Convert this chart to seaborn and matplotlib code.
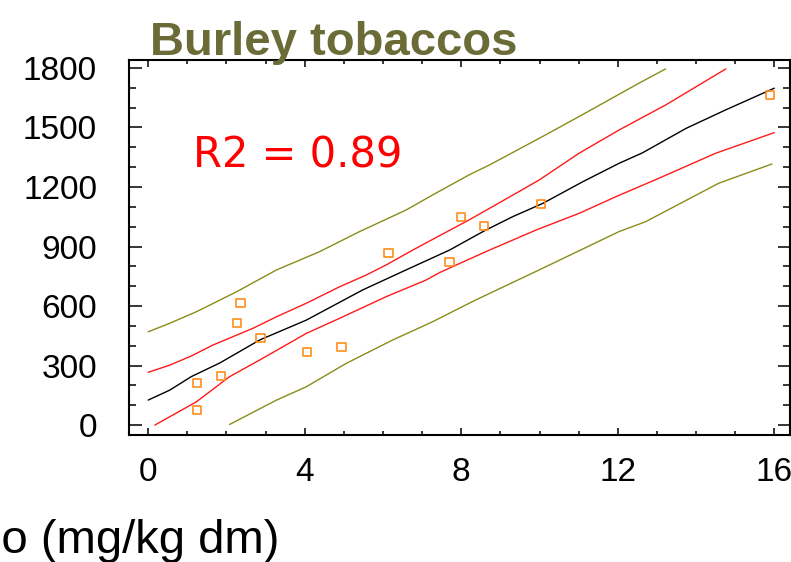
import matplotlib
matplotlib.use("Agg")
import matplotlib.pyplot as plt
import seaborn as sns
import pandas as pd
from matplotlib.ticker import MultipleLocator

# ---- data ----
mo_x = [1.24, 1.24, 1.85, 2.26, 2.36, 2.87, 4.05, 4.94, 6.14, 7.70, 8.00, 8.59, 10.04, 15.90]
mo_y = [212, 76, 247, 514, 615, 439, 368, 393, 867, 822, 1049, 1003, 1114, 1664]

fit_x = [0, 0.55, 1.1, 1.83, 2.85, 4.04, 5.48, 6.59, 7.7, 8.59, 9.31, 10.08, 11.1, 12.03, 12.63, 13.74, 14.75, 16.0]
fit_y = [126, 176, 244, 313, 429, 529, 681, 782, 882, 979, 1050, 1117, 1226, 1319, 1372, 1495, 1588, 1698]

ci_up_x = [0, 0.55, 1.1, 1.65, 2.68, 3.28, 4.04, 4.89, 5.57, 6.08, 6.76, 7.44, 8.2, 8.80, 9.99, 11.01, 12.03, 13.22, 14.76]
ci_up_y = [266, 302, 348, 403, 488, 546, 614, 697, 756, 807, 882, 954, 1034, 1101, 1235, 1370, 1487, 1613, 1795]

ci_lo_x = [0.17, 1.23, 2.08, 2.85, 4.04, 4.89, 6.08, 7.1, 7.44, 8.2, 8.72, 9.91, 11.01, 11.95, 13.05, 14.5, 16.0]
ci_lo_y = [0, 117, 244, 328, 462, 538, 647, 731, 768, 836, 882, 983, 1067, 1151, 1244, 1370, 1474]

pi_up_x = [0, 0.55, 1.23, 2.26, 3.28, 4.38, 5.4, 6.59, 7.27, 8.2, 8.72, 9.99, 11.01, 12.54, 13.22]
pi_up_y = [470, 513, 571, 672, 782, 874, 975, 1084, 1160, 1261, 1311, 1445, 1555, 1723, 1795]

pi_lo_x = [2.08, 3.28, 4.04, 5.06, 6.25, 7.27, 8.2, 8.46, 9.99, 12.03, 12.71, 14.58, 15.94]
pi_lo_y = [3, 126, 193, 311, 429, 521, 614, 639, 782, 975, 1025, 1219, 1316]

x_ticks = [0, 4, 8, 12, 16]
y_ticks = [0, 300, 600, 900, 1200, 1500, 1800]
title = "Burley tobaccos"
x_label = "Mo (mg/kg dm)"
r2_text = "R2 = 0.89"

# ---- styling ----
sns.set_style("ticks", {"axes.edgecolor": "black", "xtick.color": "black",
                        "ytick.color": "black", "text.color": "black",
                        "axes.labelcolor": "black"})
plt.rcParams["font.family"] = ["Liberation Sans", "DejaVu Sans"]

W, H = 791, 562
fig = plt.figure(figsize=(W / 100, H / 100), dpi=100)
ax = fig.add_axes([129 / W, (H - 435) / H, (790 - 129) / W, (435 - 60) / H])

OLIVE = "#8b8b1a"
RED = "#ff1a1a"
curves = [
    (pi_up_x, pi_up_y, OLIVE),
    (pi_lo_x, pi_lo_y, OLIVE),
    (ci_up_x, ci_up_y, RED),
    (ci_lo_x, ci_lo_y, RED),
    (fit_x, fit_y, "black"),
]
for cx, cy, col in curves:
    sns.lineplot(x=cx, y=cy, color=col, lw=1.0, ax=ax, sort=False, estimator=None)

sns.scatterplot(x=mo_x, y=mo_y, marker="s", s=34, facecolor="none",
                edgecolor="#ff8c1a", linewidth=1.2, ax=ax, zorder=5)

ax.set_xlim(-0.49, 16.4)
ax.set_ylim(-50, 1840)
ax.set_xticks(x_ticks)
ax.set_yticks(y_ticks)
ax.xaxis.set_minor_locator(MultipleLocator(1))
ax.yaxis.set_minor_locator(MultipleLocator(100))

for s in ax.spines.values():
    s.set_linewidth(1.5)
    s.set_color("black")
    s.set_visible(True)

ax.tick_params(axis="both", which="both", direction="in", top=True, right=True,
               width=1.1, labelsize=24, colors="black", labelcolor="black")
ax.tick_params(axis="x", which="major", length=5, pad=16)
ax.tick_params(axis="x", which="minor", length=3)
ax.tick_params(axis="y", which="major", length=9, pad=23)
ax.tick_params(axis="y", which="minor", length=5)

ax.set_xlabel("")
ax.set_ylabel("")

ax.text(1.14, 1296, r2_text, color="red", fontsize=30, va="baseline", ha="left",
        family=["DejaVu Sans"])

fig.text(150 / W, (H - 55) / H, title, fontsize=34, fontweight="bold",
         color="#6b6b38", ha="left", va="baseline")
fig.text(279 / W, (H - 553) / H, x_label, fontsize=34, ha="right", va="baseline",
         color="black")

fig.savefig("out.png", dpi=100)
